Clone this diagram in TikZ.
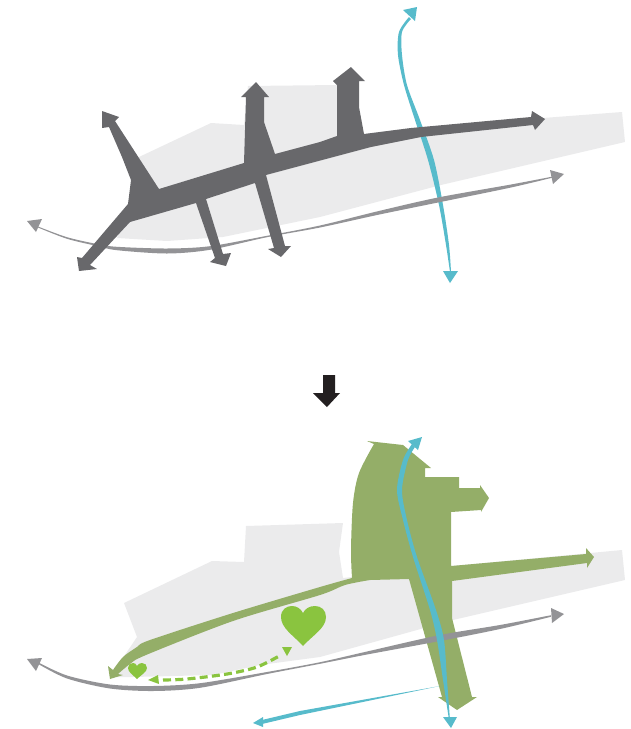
\documentclass[tikz,border=0pt]{standalone}
\definecolor{sitegray}{HTML}{EBEBEC}
\definecolor{roaddark}{HTML}{68686B}
\definecolor{curvegray}{HTML}{939396}
\definecolor{teal}{HTML}{57BBCB}
\definecolor{sage}{HTML}{94AE68}
\definecolor{heartgreen}{HTML}{8AC43F}
\definecolor{blackarrow}{HTML}{231F20}
\tikzset{
  site/.style={fill=sitegray},
  road/.style={fill=roaddark},
  curve/.style={fill=curvegray},
  water/.style={fill=teal},
  park/.style={fill=sage},
  heart/.style={fill=heartgreen},
}
\begin{document}
\begin{tikzpicture}[x=0.75pt,y=-0.75pt]
\useasboundingbox (0,0) rectangle (631,729);
%% ---------- upper plan
\fill[site] (139,157) -- (211,123) -- (244,125) -- (248,86) -- (337,85) -- (337,136) -- (364,134) -- (411,128) -- (622,112) -- (625,142) -- (441,185) -- (320,217) -- (223,237) -- (167,241) -- (117,238) -- (125,215) -- cycle;
% teal river
\fill[water] plot[smooth] coordinates {(409,17) (399,32) (398,55) (404,85) (415,120) (428,160) (439,205) (446,245) (450,272)}
  -- plot[smooth] coordinates {(451,272) (449,245) (443,205) (434,160) (420,120) (407,85) (402,55) (402,32) (411,19)} -- cycle;
\fill[water] (417,7) -- (403,10) -- (415,21) -- cycle;
\fill[water] (443,271) -- (458,271) -- (450,283) -- cycle;
% gray curve
\fill[curve] plot[smooth] coordinates {(38,226.5) (67,237.2) (97,244) (117,246.8) (167,248.5) (210,246.2) (267,235.8) (320,225.5) (378,211.2) (438,197.5) (511,184.5) (553,176.5)}
  -- plot[smooth] coordinates {(553,177.5) (511,187.5) (438,202.5) (378,214.8) (320,227.5) (267,237.2) (210,249.8) (167,253.5) (117,250.2) (97,246) (67,238.8) (38,227.5)} -- cycle;
\fill[curve] (27,221) -- (42,219) -- (36,232) -- cycle;
\fill[curve] (564,174) -- (550,170) -- (553,184) -- cycle;
% dark road network
\fill[road] (102,111) -- (119,117) -- (115,121) -- (159,189) -- (244,163) -- (246,97) -- (241,97) -- (256,82) -- (269,97) -- (264,97) -- (264,122) -- (275,154) -- (320,142) -- (337,136) -- (337,85) -- (333,81) -- (351,67) -- (365,81) -- (359,81) -- (359,107) -- (364,134) -- (411,128) -- (531,117) -- (532,111) -- (545,119) -- (535,130) -- (533,125) -- (421,137) -- (371,147) -- (311,163) -- (266,175) -- (285,246) -- (291,246) -- (281,257) -- (268,249) -- (274,248) -- (255,183) -- (206,199) -- (223,254) -- (231,253) -- (226,266) -- (210,262) -- (215,258) -- (196,203) -- (130,222) -- (90,265) -- (97,269) -- (79,271) -- (77,257) -- (82,258) -- (128,204) -- (131,180) -- (122,157) -- (109,127) -- (102,128) -- cycle;
%% ---------- arrow between plans
\fill[blackarrow] (323,375) -- (335,375) -- (335,393) -- (340,393) -- (327,407) -- (313,393) -- (323,393) -- cycle;
%% ---------- lower plan
\fill[site] (124,603) -- (212,561) -- (244,562) -- (246,526) -- (343,523) -- (339,552) -- (343,578) -- (452,566) -- (622,550) -- (625,580) -- (453,620) -- (320,657) -- (260,665) -- (213,675) -- (133,677) -- (110,677) -- (137,637) -- cycle;
% green mass
\fill[park] (367,441) -- (403,445) -- (431,468) -- (425,468) -- (425,477) -- (459,477) -- (459,488) -- (480,488) -- (480,485) -- (489,498) -- (481,512) -- (481,510) -- (451,512) -- (451,566) -- (586,554) -- (586,548) -- (594,557) -- (587,568) -- (587,563) -- (452,581) -- (452,618) -- (472,697) -- (477,697) -- (457,710) -- (438,697) -- (442,697) -- (409,579) -- (370,580)
  -- plot[smooth] coordinates {(370,580) (345,585) (320,595) (233,621) (146,655) (130,664) (118,674)} -- (123,675) -- (110,679) -- (108,666) -- (113,670)
  -- plot[smooth] coordinates {(113,670) (123,657) (137,647) (150,640) (233,613) (320,587) (352,578)}
  -- plot[smooth] coordinates {(352,578) (351,550) (353,503) (359,473) (374,444)} -- cycle;
% gray curve
\fill[curve] plot[smooth] coordinates {(38,662.2) (67,675.5) (110,684.5) (153,686) (200,683.2) (267,672) (320,662.2) (367,651.5) (440,635) (500,625) (551,615.2)}
  -- plot[smooth] coordinates {(551,616.8) (500,629) (440,641) (367,654.5) (320,663.8) (267,674) (200,687.8) (153,691) (110,688.5) (67,678.5) (38,663.8)} -- cycle;
\fill[curve] (27,659) -- (42,658) -- (36,671) -- cycle;
\fill[curve] (564,614) -- (551,608) -- (552,623) -- cycle;
% teal river
\fill[water] plot[smooth] coordinates {(412,444) (403,460) (397,490) (403,520) (413,557) (430,610) (437,640) (443,680) (449,720)}
  -- plot[smooth] coordinates {(450,720) (447,680) (444,640) (436,610) (417,557) (407,520) (402,490) (408,460) (415,447)} -- cycle;
\fill[water] (422,437) -- (408,441) -- (418,450) -- cycle;
\fill[water] (443,717) -- (457,717) -- (451,728) -- cycle;
\fill[water] (440,686) -- (300,711) -- (262,720) -- (262,724) -- (300,715) -- cycle;
\fill[water] (253,723) -- (263,717) -- (263,727) -- cycle;
% dashed walk
\draw[heartgreen,line width=2.4pt,dash pattern=on 6pt off 3.2pt] plot[smooth] coordinates {(163,680) (187,679) (227,674) (257,667) (281,655)};
\fill[heart] (148,680) -- (158,675) -- (159,684) -- cycle;
\fill[heart] (292,647) -- (282,647) -- (287,656) -- cycle;
% hearts
\fill[heart] (303,646) .. controls (293,635) and (281,628) .. (281,617) .. controls (281,609) and (287,606) .. (292,606) .. controls (297,606) and (301,609) .. (303,613) .. controls (305,609) and (309,606) .. (315,606) .. controls (321,606) and (326,610) .. (326,617) .. controls (326,628) and (313,635) .. (303,646) -- cycle;
\fill[heart] (137,679) .. controls (133,675) and (128,672) .. (128,668) .. controls (128,665) and (130,663) .. (133,663) .. controls (135,663) and (136,664) .. (137,666) .. controls (138,664) and (140,663) .. (142,663) .. controls (145,663) and (147,665) .. (147,668) .. controls (147,672) and (141,675) .. (137,679) -- cycle;
\end{tikzpicture}
\end{document}
